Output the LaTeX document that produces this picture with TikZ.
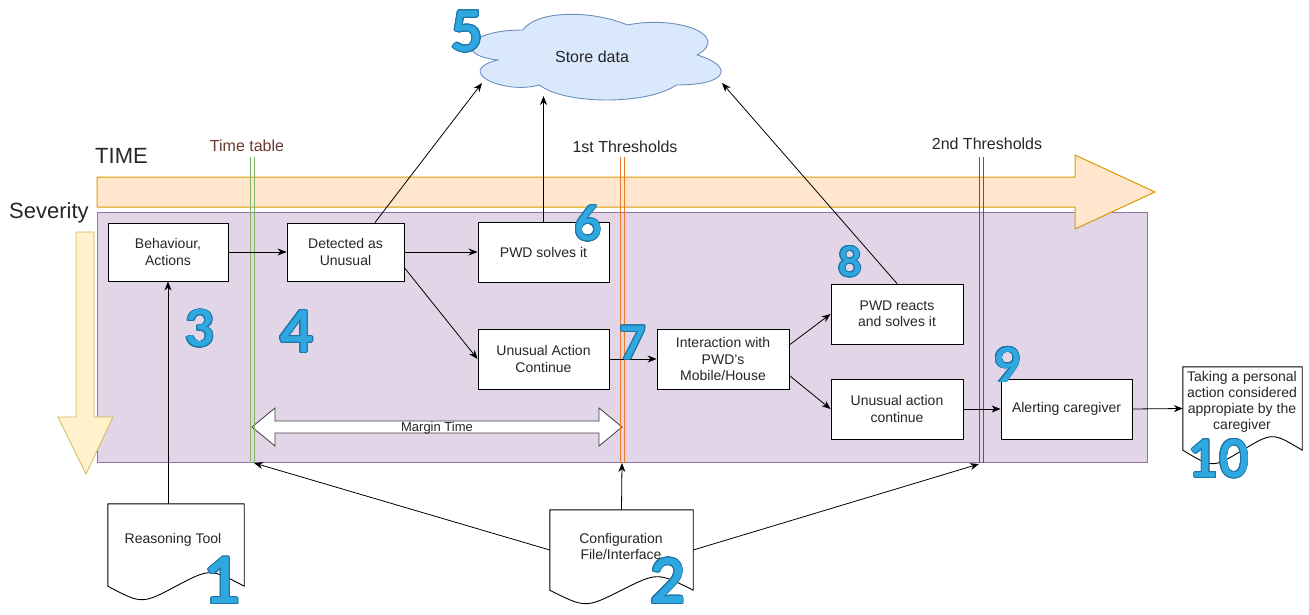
\documentclass[tikz,border=0pt]{standalone}
\usepackage{fontspec}
\setmainfont{Liberation Sans}
\newfontfamily\numfont{Lato}
\usepackage{contour}
\contourlength{0.9pt}
\usetikzlibrary{arrows.meta,calc}
\definecolor{purplefill}{HTML}{E1D5E7}
\definecolor{purpleline}{HTML}{9673A6}
\definecolor{orangefill}{HTML}{FFE6CC}
\definecolor{orangeline}{HTML}{D79B00}
\definecolor{yellowfill}{HTML}{FFF2CC}
\definecolor{yellowline}{HTML}{D6B656}
\definecolor{cloudfill}{HTML}{DAE8FC}
\definecolor{cloudline}{HTML}{6C8EBF}
\definecolor{numblue}{HTML}{2FA8E0}
\definecolor{numdark}{HTML}{1F75A8}
\definecolor{ttgreen}{HTML}{82B366}
\definecolor{thorange}{HTML}{EA7B2A}
\definecolor{thred}{HTML}{EE1C1C}
\definecolor{ttbrown}{HTML}{6B3A30}
\definecolor{txt}{HTML}{262626}
\newcommand\docpath[1]{%
  \draw[docline] (#1.north west) -- (#1.north east) -- (#1.south east)
    .. controls ($(#1.south east)!0.25!(#1.south west)+(0,-18)$) .. (#1.south)
    .. controls ($(#1.south west)!0.25!(#1.south east)+(0,18)$) .. (#1.south west) -- cycle;}
\begin{document}
\begin{tikzpicture}[x=1pt,y=-1pt,
  box/.style={draw=black, fill=white, line width=0.9pt, text=txt, align=center,
    font=\fontsize{14}{16.5}\selectfont, inner sep=0pt},
  docn/.style={inner sep=0pt},
  docline/.style={draw=black, fill=white, line width=0.9pt},
  doctext/.style={text=txt, align=center, font=\fontsize{14}{16}\selectfont, inner sep=0pt},
  conn/.style={-{Stealth[length=9pt,width=7pt]}, line width=0.8pt, black},
  num/.style={font=\numfont\bfseries\fontsize{#1}{#1}\selectfont, inner sep=0pt, text=numblue},
  biglabel/.style={text=txt, font=\fontsize{22}{24}\selectfont, inner sep=0pt},
  thlabel/.style={text=txt, font=\fontsize{16}{18}\selectfont, inner sep=0pt}
]
\useasboundingbox (0,0) rectangle (1309,615);

% background region
\draw[fill=purplefill, draw=purpleline, line width=0.9pt] (97,212) rectangle (1147,462);

% TIME arrow
\draw[fill=orangefill, draw=orangeline, line width=1pt]
  (97,177) -- (1075,177) -- (1075,155) -- (1155,192) -- (1075,229) -- (1075,207) -- (97,207) -- cycle;
% Severity arrow
\draw[fill=yellowfill, draw=yellowline, line width=0.8pt]
  (76,232) -- (94,232) -- (94,417) -- (113,417) -- (86,474) -- (58,417) -- (76,417) -- cycle;

\node[biglabel, anchor=west] (timelbl) at (95,156) {TIME};
\node[biglabel, anchor=west] (sevlbl) at (9,213) {Severity};

% Margin time double arrow
\draw[fill=white, draw=black!75, line width=0.8pt]
  (252,427) -- (275,408) -- (275,421) -- (599,421) -- (599,408) -- (622,427)
  -- (599,446) -- (599,433) -- (275,433) -- (275,446) -- cycle;
\node[text=txt, font=\fontsize{13}{14}\selectfont, inner sep=0pt] (margin) at (437,428) {Margin Time};

% threshold lines
\draw[ttgreen, line width=1pt] (250,157) -- (250,463) (254,157) -- (254,463);
\draw[thorange, line width=1pt] (620,157) -- (620,463) (624,157) -- (624,463);
\draw[thred, line width=1pt] (979,157) -- (979,463) (983,157) -- (983,463);
\coordinate (ttB) at (254,463);
\coordinate (t1B) at (622,463);
\coordinate (t2B) at (979,464);
\node[text=ttbrown, font=\fontsize{16}{18}\selectfont, inner sep=0pt] (ttl) at (247,146) {Time table};
\node[thlabel] (t1l) at (625,147) {1st Thresholds};
\node[thlabel] (t2l) at (987,144) {2nd Thresholds};

% cloud
\draw[fill=cloudfill, draw=cloudline, line width=0.9pt]
  (522.75,30) .. controls (466.95,30) and (453,55) .. (497.64,60)
  .. controls (453,71) and (503.22,95) .. (539.49,85)
  .. controls (564.6,105) and (648.3,105) .. (676.2,85)
  .. controls (732,85) and (732,65) .. (697.13,55)
  .. controls (732,35) and (676.2,15) .. (627.38,25)
  .. controls (592.5,10) and (536.7,10) .. (522.75,30) -- cycle;
\node[text=txt, font=\fontsize{16}{18}\selectfont, inner sep=0pt] (cloud) at (592,57) {Store data};
\coordinate (c1) at (482,83);
\coordinate (c2) at (543.5,96);
\coordinate (c3) at (722,83);

% boxes
\node[box, minimum width=120, minimum height=58] (beh) at (168,252) {Behaviour,\\Actions};
\node[box, minimum width=117, minimum height=58] (det) at (345.5,252) {Detected as\\Unusual};
\node[box, minimum width=131, minimum height=60] (pwd) at (543.5,252) {PWD solves it};
\node[box, minimum width=131, minimum height=60] (uac) at (543.5,359) {Unusual Action\\Continue};
\node[box, minimum width=132, minimum height=60] (inter) at (723,359) {Interaction with\\PWD's\\Mobile/House};
\node[box, minimum width=132, minimum height=60] (react) at (897,314) {PWD reacts\\and solves it};
\node[box, minimum width=132, minimum height=60] (uac2) at (897,409) {Unusual action\\continue};
\node[box, minimum width=131, minimum height=60] (alert) at (1066.5,409) {Alerting caregiver};

% documents
\node[docn, minimum width=136, minimum height=82] (reason) at (176,545) {};
\docpath{reason}
\node[doctext] (reasont) at (173,540) {Reasoning Tool};
\node[docn, minimum width=143, minimum height=80] (cfg) at (621.5,550) {};
\docpath{cfg}
\node[doctext] (cfgt) at (621,546) {Configuration\\File/Interface};
\node[docn, minimum width=119, minimum height=83] (take) at (1242.5,408.5) {};
\docpath{take}
\node[doctext] (taket) at (1242,402) {Taking a personal\\action considered\\appropiate by the\\caregiver};

% connectors
\draw[conn] (beh) -- (det);
\draw[conn] (det) -- (pwd);
\draw[conn] (det.-15) -- (uac.west);
\draw[conn] (uac) -- (inter);
\draw[conn] (inter.12) -- (react.west);
\draw[conn] (inter.-14) -- (uac2.west);
\draw[conn] (uac2) -- (alert);
\draw[conn] (alert.east) -- (take.west);
\draw[conn] (det.45) -- (c1);
\draw[conn] (pwd.north) -- (c2);
\draw[conn] (react.north) -- (c3);
\draw[conn] (reason.north -| beh.south) -- (beh.south);
\draw[conn] (cfg.west) -- (ttB);
\draw[conn] (cfg.north) -- (t1B);
\draw[conn] (cfg.east) -- (t2B);

% numbers
\node[num=64] (n1) at (223,581) {\contour{numdark}{1}};
\node[num=62] (n2) at (668,581) {\contour{numdark}{2}};
\node[num=51] (n3) at (200,329) {\contour{numdark}{3}};
\node[num=58] (n4) at (297,332) {\contour{numdark}{4}};
\node[num=56] (n5) at (467,32) {\contour{numdark}{5}};
\node[num=48] (n6) at (588,224) {\contour{numdark}{6}};
\node[num=46] (n7) at (633,343) {\contour{numdark}{7}};
\node[num=41] (n8) at (850,262) {\contour{numdark}{8}};
\node[num=48] (n9) at (1008,365) {\contour{numdark}{9}};
\node[num=52] (n10) at (1219,459) {\contour{numdark}{10}};
\end{tikzpicture}
\end{document}
